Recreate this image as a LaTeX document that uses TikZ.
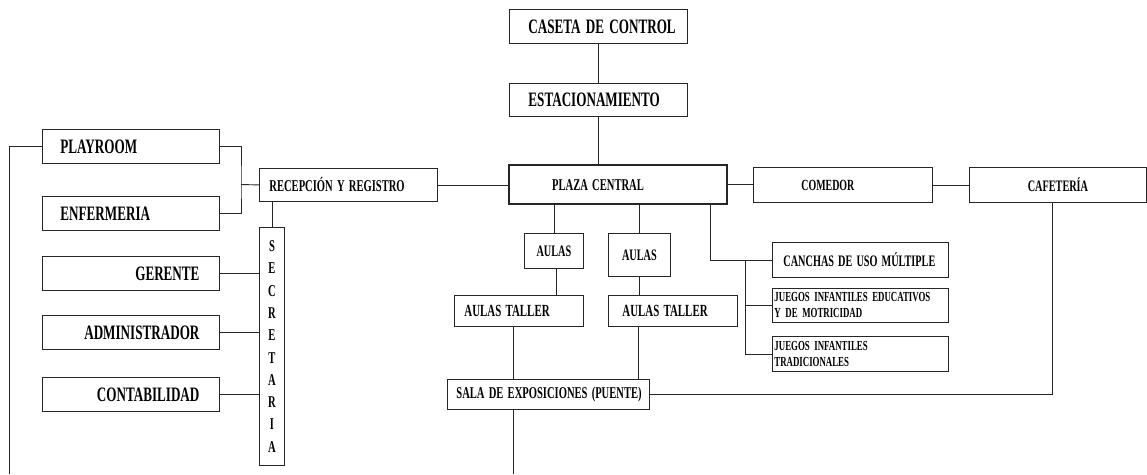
\documentclass[tikz,border=0pt]{standalone}
\usepackage{fontspec}
\newfontfamily\cf{Liberation Serif}[FakeStretch=0.64, UprightFont={* Bold}, WordSpace=1.6]
\newcommand\boxL[3]{\makebox[#1pt][l]{\hspace{#2pt}#3}}
\newcommand\boxR[3]{\makebox[#1pt][r]{#3\hspace{#2pt}}}
\definecolor{lc}{HTML}{262626}
\tikzset{
  box/.style={draw=lc, line width=0.9pt, inner sep=0pt, anchor=north west, text=black},
  conn/.style={draw=lc, line width=0.9pt},
  fa/.style={font=\cf\fontsize{20.5}{24}\selectfont},
  fb/.style={font=\cf\fontsize{16.5}{20}\selectfont},
  fc/.style={font=\cf\fontsize{13.8}{16}\selectfont},
}
\begin{document}
\begin{tikzpicture}[x=1pt,y=-1pt]
\useasboundingbox (0,0) rectangle (1147,474);
% left group
\node (pl)  [box, fa, minimum height=34] at (42,129) {\boxL{177}{18}{PLAYROOM}};
\node (enf) [box, fa, minimum height=34] at (42,196) {\boxL{177}{18}{ENFERMERIA}};
\node (ger) [box, fa, minimum height=34] at (42,256) {\boxR{177}{20}{GERENTE}};
\node (adm) [box, fa, minimum height=34] at (42,315) {\boxR{177}{20}{ADMINISTRADOR}};
\node (con) [box, fa, minimum height=34] at (42,377) {\boxR{177}{20}{CONTABILIDAD}};
\node (rec) [box, fb, minimum height=33] at (259,168) {\boxL{178}{10}{RECEPCIÓN Y REGISTRO}};
\node (sec) [box, font=\cf\fontsize{16.5}{22.3}\selectfont, minimum width=25, minimum height=238, align=center] at (259,227) {S\\E\\C\\R\\E\\T\\A\\R\\I\\A};
% top column
\node (cas) [box, fa, minimum height=34] at (509,9) {\boxL{178}{19}{CASETA DE CONTROL}};
\node (est) [box, fa, minimum height=33] at (509,83) {\boxL{178}{19}{ESTACIONAMIENTO}};
\node (plz) [draw=lc, line width=2.4pt, anchor=north west, inner sep=0, fb, minimum height=39] at (508,164) {\boxL{218}{43}{PLAZA CENTRAL}};
\node (com) [box, font=\cf\fontsize{15.5}{19}\selectfont, minimum height=35] at (753,167) {\boxL{179}{48}{COMEDOR}};
\node (caf) [box, font=\cf\fontsize{16}{19}\selectfont, minimum height=35, minimum width=177] at (969,167) {CAFETERÍA};
% right group
\node (can) [box, font=\cf\fontsize{16}{19}\selectfont, minimum height=35] at (772,242) {\boxL{176}{11}{CANCHAS DE USO MÚLTIPLE}};
\node (je)  [box, fc, minimum height=34, inner xsep=2, text width=172, align=left] at (772,288) {JUEGOS INFANTILES EDUCATIVOS\\Y DE MOTRICIDAD};
\node (jt)  [box, fc, minimum height=35, inner xsep=2, text width=172, align=left] at (772,336) {JUEGOS INFANTILES\\TRADICIONALES};
% aulas
\node (a1) [box, font=\cf\fontsize{16}{19}\selectfont, minimum height=35, minimum width=59] at (524,233) {AULAS};
\node (a2) [box, font=\cf\fontsize{16}{19}\selectfont, minimum height=43, minimum width=62] at (608,233) {AULAS};
\node (t1) [box, font=\cf\fontsize{17}{20}\selectfont, minimum height=31] at (454,295) {\boxL{129}{10}{AULAS TALLER}};
\node (t2) [box, font=\cf\fontsize{17}{20}\selectfont, minimum height=31] at (608,295) {\boxL{129}{14}{AULAS TALLER}};
\node (sala) [box, fb, minimum height=30] at (447,379) {\boxL{202}{9}{SALA DE EXPOSICIONES (PUENTE)}};
% coordinates
\coordinate (j1) at (241,184.5);
\coordinate (lb) at (9.5,474);
\coordinate (p3) at (710,203);
\coordinate (jb) at (745,260);
\coordinate (sb) at (513,474);
% connectors
\draw[conn] (pl.east) -| (j1) |- (enf.east);
\draw[conn] (j1) -- (rec.west);
\draw[conn] (pl.west) -| (lb);
\draw[conn] (sec.north) -- (sec.north |- rec.south);
\draw[conn] (ger.east) -- (ger.east -| sec.west);
\draw[conn] (adm.east) -- (adm.east -| sec.west);
\draw[conn] (con.east) -- (con.east -| sec.west);
\draw[conn] (rec.east) -- (rec.east -| plz.west);
\draw[conn] (cas.south) -- (est.north);
\draw[conn] (est.south) -- (est.south |- plz.north);
\draw[conn] (plz.east) -- (plz.east -| com.west);
\draw[conn] (com.east) -- (com.east -| caf.west);
\draw[conn] ([xshift=-5.5]caf.south) |- (sala.east);
\draw[conn] (a1.north) -- (a1.north |- plz.south);
\draw[conn] (a2.north) -- (a2.north |- plz.south);
\draw[conn] (p3) |- (can.west);
\draw[conn] (jb) |- (jt.west);
\draw[conn] (jb |- je.west) -- (je.west);
\draw[conn] ([xshift=2.5]a1.south) -- ([xshift=2.5]a1.south |- t1.north);
\draw[conn] (a2.south) -- (a2.south |- t2.north);
\draw[conn] ([xshift=-5.5]t1.south) -- ([xshift=-5.5]t1.south |- sala.north);
\draw[conn] ([xshift=-34.5]t2.south) -- ([xshift=-34.5]t2.south |- sala.north);
\draw[conn] (sala.south -| sb) -- (sb);
\end{tikzpicture}
\end{document}
